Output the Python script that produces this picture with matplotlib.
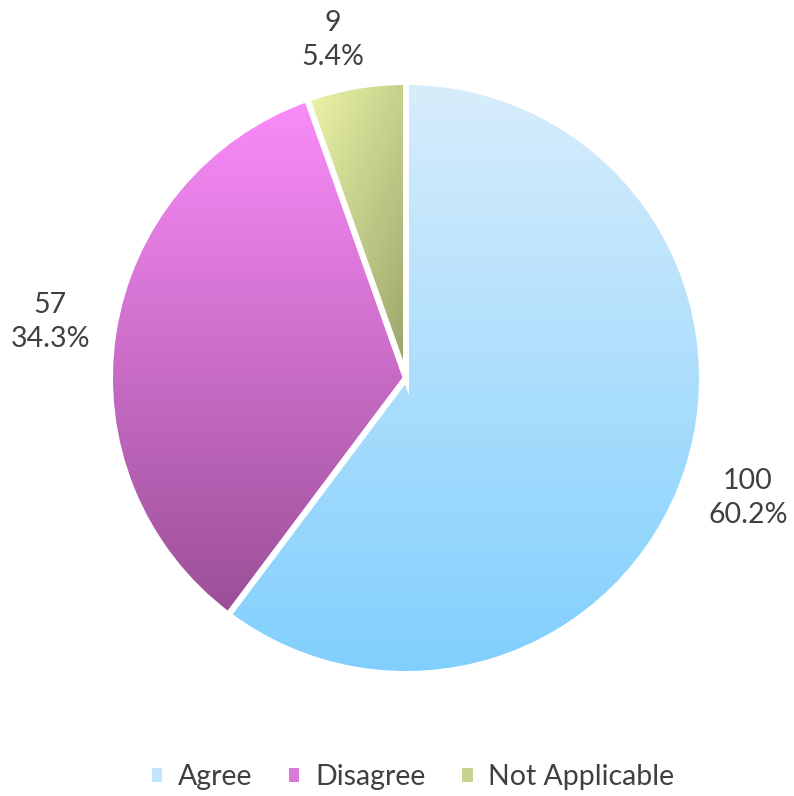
import numpy as np
import matplotlib
matplotlib.use('Agg')
from matplotlib import pyplot as plt
from matplotlib.colors import LinearSegmentedColormap
from matplotlib.patches import Patch

plt.rcParams['font.family'] = ['Lato', 'DejaVu Sans']

# data
categories = ['Agree', 'Disagree', 'Not Applicable']
counts = [100, 57, 9]
percents = ['60.2%', '34.3%', '5.4%']

# gradient ends per slice (top, bottom)
grad = {
    'Agree': ('#d8edfb', '#80cffe'),
    'Disagree': ('#fa8cfa', '#9b4f97'),
    'Not Applicable': ('#eef6a8', '#98a36a'),
}
legend_cols = ['#bfe4fc', '#d878d8', '#c9d290']
text_col = '#404040'

W, H = 794, 796
fig = plt.figure(figsize=(W / 100, H / 100), dpi=100)
ax = fig.add_axes([0, 0, 1, 1])

cx, cy, r = 406, H - 378, 296
wedges, _ = ax.pie(counts, center=(cx, cy), radius=r, startangle=90,
                   counterclock=False, frame=True,
                   wedgeprops=dict(edgecolor='white', linewidth=4.3))

for w, name in zip(wedges, categories):
    c0, c1 = grad[name]
    cmap = LinearSegmentedColormap.from_list(name, [c0, c1])
    verts = w.get_path().vertices
    x0, y0 = verts.min(axis=0)
    x1, y1 = verts.max(axis=0)
    n = 256
    if name == 'Not Applicable':
        # diagonal, top-left -> bottom-right
        u, v = np.meshgrid(np.linspace(0, 1, n), np.linspace(0, 1, n))
        g = u * 0.45 + v * 0.55
    else:
        g = np.tile(np.linspace(0, 1, n)[:, None], (1, 2))
    im = ax.imshow(g, cmap=cmap, extent=(x0, x1, y0, y1), origin='upper',
                   aspect='auto', interpolation='bilinear', zorder=1)
    im.set_clip_path(w)
    w.set_facecolor('none')
    w.set_zorder(2)

ax.set_xlim(0, W)
ax.set_ylim(0, H)
ax.axis('off')

fs = 20.5
ax.text(748, H - 498, f'{counts[0]}\n{percents[0]}', ha='center', va='center',
        fontsize=fs, color=text_col, linespacing=1.4)
ax.text(50, H - 322, f'{counts[1]}\n{percents[1]}', ha='center', va='center',
        fontsize=fs, color=text_col, linespacing=1.4)
ax.text(333, H - 40, f'{counts[2]}\n{percents[2]}', ha='center', va='center',
        fontsize=fs, color=text_col, linespacing=1.4)

handles = [Patch(facecolor=c, edgecolor='none', label=l)
           for c, l in zip(legend_cols, categories)]
ax.legend(handles=handles, loc='center', bbox_to_anchor=(413 / W, 1 - 777 / H),
          ncol=3, frameon=False, fontsize=fs, handlelength=0.36,
          handleheight=0.36, handletextpad=0.55, columnspacing=1.3,
          labelcolor=text_col)

fig.savefig('out.png', dpi=100)
